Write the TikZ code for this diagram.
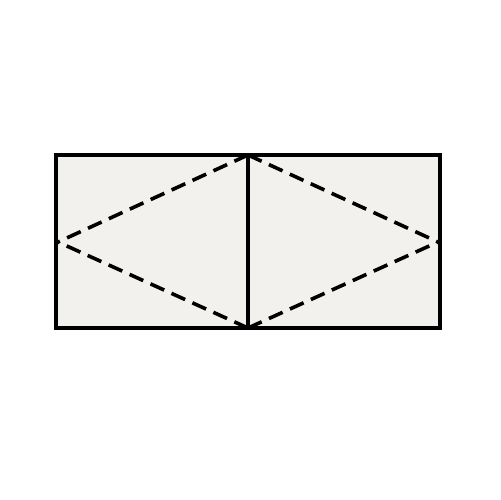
\documentclass[tikz,border=0pt]{standalone}
\usepackage{tikz}
\definecolor{panelgray}{HTML}{F2F1EE}

\begin{document}
\begin{tikzpicture}[x=1pt, y=-1pt,
    frame/.style={draw=black, line width=4pt, line join=miter},
    fold/.style={draw=black, line width=3.6pt, dash pattern=on 15pt off 8pt}]
    \useasboundingbox (0,0) rectangle (501,500);
    \coordinate (tl) at (56,155);
    \coordinate (br) at (440,328);
    \coordinate (top) at (248,155);
    \coordinate (bot) at (248,328);
    \coordinate (left) at (58,242);
    \coordinate (right) at (438,242);

    \fill [panelgray] (tl) rectangle (br);
    \foreach \a in {top, bot}
        \foreach \b in {left, right}
            \draw [fold] (\a) -- (\b);
    \draw [frame] (top) -- (bot);
    \draw [frame] (tl) rectangle (br);
\end{tikzpicture}
\end{document}
